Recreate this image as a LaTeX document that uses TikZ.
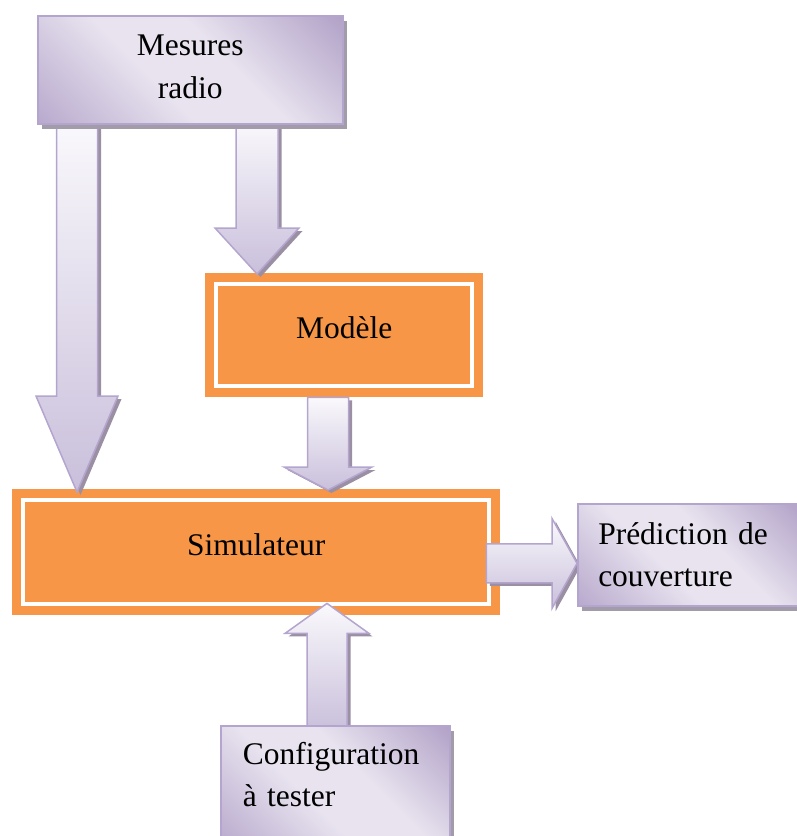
\documentclass[tikz,border=0pt]{standalone}
\usepackage{fontspec}
\setmainfont{Liberation Serif}
\usetikzlibrary{calc}

\definecolor{boxorange}{HTML}{F79646}
\definecolor{lilacdeep}{HTML}{B0A0C6}
\definecolor{lilacmid}{HTML}{B7A8CC}
\definecolor{lilaclight}{HTML}{E8E3EF}
\definecolor{lilacedge}{HTML}{B4A5CE}
\definecolor{boxshadow}{HTML}{A29BA9}
\definecolor{arrowshadow}{HTML}{9A8FA3}
\definecolor{arrowtop}{HTML}{FAF9FC}
\definecolor{arrowbot}{HTML}{C9BFDB}

% diagonal glow used for the lilac boxes
\pgfdeclarehorizontalshading{lilacglow}{100bp}{color(0bp)=(lilacmid); color(14bp)=(lilacmid); color(42bp)=(lilaclight); color(58bp)=(lilaclight); color(86bp)=(lilacdeep); color(100bp)=(lilacdeep)}

\pgfdeclarelayer{blocks}
\pgfdeclarelayer{flows}
\pgfsetlayers{blocks,flows,main}

% invisible strut that lifts a text inside its box
\newcommand\dropdepth[1]{\rule[-#1]{0pt}{#1}}

% block arrow: tail, tip, shaft half-width, head half-width, head length
\newcommand\blockarrow[5]{%
  \coordinate (ba-b) at ($(#2)!#5!(#1)$);
  \path[flowarrow] ($(#1)!#3!90:(#2)$) -- ($(ba-b)!#3!90:(#2)$) -- ($(ba-b)!#4!90:(#2)$)
    -- (#2) -- ($(ba-b)!#4!-90:(#2)$) -- ($(ba-b)!#3!-90:(#2)$) -- ($(#1)!#3!-90:(#2)$) -- cycle;
}

\tikzset{
  every node/.style={font=\fontsize{31.5}{42.5}\selectfont},
  lilacbox/.style={draw=lilacedge, line width=1.5pt, shading=lilacglow, shading angle=45,
    inner sep=0pt, anchor=north west,
    preaction={fill=boxshadow, transform canvas={shift={(4pt,-5pt)}}}},
  orangebox/.style={fill=boxorange, inner sep=0pt, anchor=north west,
    path picture={\draw[white, line width=3.5pt]
      ([shift={(11pt,-11pt)}]path picture bounding box.north west) rectangle
      ([shift={(-11pt,11pt)}]path picture bounding box.south east);}},
  flowarrow/.style={draw=lilacedge, line width=1.5pt, top color=arrowtop, bottom color=arrowbot,
    line join=miter,
    preaction={fill=arrowshadow, transform canvas={shift={(3.5pt,-3pt)}}}},
}

\begin{document}
\begin{tikzpicture}[x=1pt, y=-1pt]
\useasboundingbox (0,0) rectangle (797,836);

% processing blocks
\begin{pgfonlayer}{blocks}
  \node[orangebox, minimum width=278pt, minimum height=124pt] (mod) at (205,273) {Modèle\dropdepth{15.5pt}};
  \node[orangebox, minimum width=488pt, minimum height=126pt] (sim) at (12,489) {Simulateur\dropdepth{15.5pt}};
\end{pgfonlayer}

% inputs and output
\node[lilacbox, minimum width=305pt, minimum height=108pt, align=center] (mes) at (37,15)
  {Mesures\\radio\dropdepth{6.4pt}};
\node[lilacbox, minimum height=102pt, inner xsep=20.5pt, text width=182pt, align=left] (pre) at (577,503)
  {Prédiction de\\couverture};
\node[lilacbox, minimum height=120pt, inner xsep=22pt, text width=185pt, align=left] (cfg) at (220,725)
  {Configuration\\à tester\dropdepth{23pt}};

% flows
\begin{pgfonlayer}{flows}
  \coordinate (t1) at ($(mes.south west)+(40,-5)$);
  \coordinate (h1) at ($(t1 |- sim.north)+(0,3)$);
  \blockarrow{t1}{h1}{20.5pt}{41pt}{96pt}

  \coordinate (t2) at ($(mes.south west)+(220,-5)$);
  \coordinate (h2) at ($(t2 |- mod.north)+(0,1)$);
  \blockarrow{t2}{h2}{21pt}{42pt}{46pt}

  \coordinate (t3) at ($(mod.south west)+(123,0)$);
  \coordinate (h3) at ($(t3 |- sim.north)+(0,1)$);
  \blockarrow{t3}{h3}{20.5pt}{44pt}{23pt}

  \coordinate (t4) at ($(sim.south east)+(-14,-52)$);
  \coordinate (h4) at (pre.west |- t4);
  \blockarrow{t4}{h4}{19.5pt}{45pt}{25pt}

  \coordinate (t5) at ($(cfg.north west)+(107,5)$);
  \coordinate (h5) at ($(t5 |- sim.south)+(0,-12)$);
  \blockarrow{t5}{h5}{20pt}{42pt}{30pt}
\end{pgfonlayer}
\end{tikzpicture}
\end{document}
